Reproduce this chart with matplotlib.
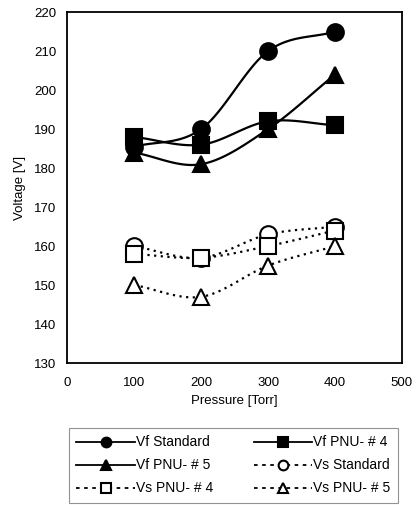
import matplotlib
matplotlib.use("Agg")
import matplotlib.pyplot as plt
import numpy as np
from matplotlib.lines import Line2D

plt.rcParams["font.family"] = ["Liberation Sans", "DejaVu Sans"]

pressure = [100, 200, 300, 400]
vf_standard = [185.5, 190, 210, 215]
vf_pnu4 = [188, 186, 192, 191]
vf_pnu5 = [184, 181, 190, 204]
vs_standard = [160, 157, 163, 165]
vs_pnu4 = [158, 157, 160, 164]
vs_pnu5 = [150, 147, 155, 160]

x_ticks = [0, 100, 200, 300, 400, 500]
y_ticks = [130, 140, 150, 160, 170, 180, 190, 200, 210, 220]

DOT = (0, (1, 2))


def smooth(x, y, n=30):
    # Catmull-Rom style smoothing, like Excel's "smoothed line"
    x = np.asarray(x, float)
    y = np.asarray(y, float)
    px = np.concatenate([[2 * x[0] - x[1]], x, [2 * x[-1] - x[-2]]])
    py = np.concatenate([[2 * y[0] - y[1]], y, [2 * y[-1] - y[-2]]])
    xs, ys = [], []
    t = np.linspace(0, 1, n)
    for i in range(1, len(px) - 2):
        p0, p1, p2, p3 = [np.array([px[j], py[j]]) for j in range(i - 1, i + 3)]
        c1 = p1 + (p2 - p0) / 6.0
        c2 = p2 - (p3 - p1) / 6.0
        b = (((1 - t) ** 3)[:, None] * p1 + (3 * (1 - t) ** 2 * t)[:, None] * c1
             + (3 * (1 - t) * t ** 2)[:, None] * c2 + (t ** 3)[:, None] * p2)
        xs.extend(b[:, 0])
        ys.extend(b[:, 1])
    return xs, ys


series = [
    ("Vf Standard", vf_standard, "o", "-", "black"),
    ("Vf PNU- # 4", vf_pnu4, "s", "-", "black"),
    ("Vf PNU- # 5", vf_pnu5, "^", "-", "black"),
    ("Vs Standard", vs_standard, "o", DOT, "white"),
    ("Vs PNU- # 4", vs_pnu4, "s", DOT, "white"),
    ("Vs PNU- # 5", vs_pnu5, "^", DOT, "white"),
]

fig = plt.figure(figsize=(4.2, 5.05), dpi=100)
ax = fig.add_axes([0.16, 0.281, 0.797, 0.695])

handles = []
for label, vals, marker, ls, face in series:
    sx, sy = smooth(pressure, vals)
    ax.plot(sx, sy, color="black", linestyle=ls, linewidth=1.6, zorder=2)
    ax.plot(pressure, vals, linestyle="none", marker=marker, markersize=12,
            markerfacecolor=face, markeredgecolor="black", markeredgewidth=1.5,
            zorder=3)
    handles.append(Line2D([], [], color="black",
                          linestyle="-" if ls == "-" else (0, (2, 2.5)),
                          linewidth=1.3, marker=marker, markersize=7,
                          markerfacecolor=face, markeredgecolor="black",
                          markeredgewidth=1.5, label=label))

ax.set_xlim(0, 500)
ax.set_ylim(130, 220)
ax.set_xticks(x_ticks)
ax.set_yticks(y_ticks)
ax.tick_params(length=0, labelsize=9.5)
ax.tick_params(axis="x", pad=10)
ax.tick_params(axis="y", pad=8)
for sp in ax.spines.values():
    sp.set_linewidth(1.3)
ax.set_xlabel("Pressure [Torr]", fontsize=9.5, labelpad=4)
ax.set_ylabel("Voltage [V]", fontsize=9.5, labelpad=6)

# row-wise order like the original legend
order = [0, 2, 4, 1, 3, 5]
leg = fig.legend(handles=[handles[i] for i in order], ncol=2,
                 loc="upper center", bbox_to_anchor=(0.556, 0.153),
                 fontsize=10, frameon=True, fancybox=False, edgecolor="#777777",
                 handlelength=4.2, handletextpad=0.1, columnspacing=2.9,
                 labelspacing=0.65, borderpad=0.55, borderaxespad=0.0)
leg.get_frame().set_linewidth(0.8)

fig.savefig("out.png", dpi=100)
